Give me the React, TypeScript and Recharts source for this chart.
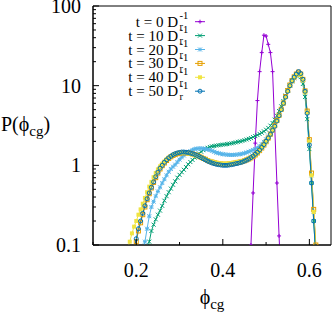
import React from 'react';
import { LineChart, Line, XAxis, YAxis, Legend, ReferenceArea } from 'recharts';

// packing fraction grid (step 0.005)
const PHI = [
  0.17, 0.175, 0.18, 0.185, 0.19, 0.195, 0.2, 0.205, 0.21, 0.215,
  0.22, 0.225, 0.23, 0.235, 0.24, 0.245, 0.25, 0.255, 0.26, 0.265,
  0.27, 0.275, 0.28, 0.285, 0.29, 0.295, 0.3, 0.305, 0.31, 0.315,
  0.32, 0.325, 0.33, 0.335, 0.34, 0.345, 0.35, 0.355, 0.36, 0.365,
  0.37, 0.375, 0.38, 0.385, 0.39, 0.395, 0.4, 0.405, 0.41, 0.415,
  0.42, 0.425, 0.43, 0.435, 0.44, 0.445, 0.45, 0.455, 0.46, 0.465,
  0.47, 0.475, 0.48, 0.485, 0.49, 0.495, 0.5, 0.505, 0.51, 0.515,
  0.52, 0.525, 0.53, 0.535, 0.54, 0.545, 0.55, 0.555, 0.56, 0.565,
  0.57, 0.575, 0.58, 0.585, 0.59, 0.595, 0.6, 0.605, 0.61, 0.615, 0.62,
];

const T0 = [
  null, null, null, null, null, null, null, null, null, null,
  null, null, null, null, null, null, null, null, null, null,
  null, null, null, null, null, null, null, null, null, null,
  null, null, null, null, null, null, null, null, null, null,
  null, null, null, null, null, null, null, null, null, null,
  null, null, null, null, null, null, null, null, 0.03, 0.1,
  0.45, 1.9, 6.5, 15, 26, 43, 42, 33, 26, 15,
  3.0, 0.6, 0.13, 0.03, null, null, null, null, null, null,
  null, null, null, null, null, null, null, null, null, null, null,
];

const T10 = [
  null, null, null, null, null, null, null, null, null, null,
  null, 0.08, 0.11, 0.15, 0.18, 0.21, 0.24, 0.27, 0.31, 0.36,
  0.41, 0.46, 0.51, 0.57, 0.63, 0.7, 0.76, 0.82, 0.88, 0.95,
  1.03, 1.1, 1.17, 1.25, 1.33, 1.41, 1.48, 1.55, 1.61, 1.66,
  1.7, 1.73, 1.75, 1.77, 1.79, 1.8, 1.82, 1.83, 1.85, 1.87,
  1.89, 1.91, 1.94, 1.97, 2.0, 2.03, 2.07, 2.11, 2.15, 2.2,
  2.26, 2.33, 2.4, 2.48, 2.57, 2.67, 2.8, 2.95, 3.15, 3.4,
  3.75, 4.2, 4.8, 5.5, 6.4, 7.5, 8.7, 10, 11.3, 12.4,
  13.3, 13.7, 12.8, 10.5, 7.2, 3.8, 1.6, 0.6, 0.2, 0.07, null,
];

const T20 = [
  null, null, null, null, null, null, null, null, 0.06, 0.08,
  0.11, 0.16, 0.23, 0.3, 0.35, 0.41, 0.47, 0.53, 0.6, 0.67,
  0.75, 0.83, 0.9, 0.96, 1.02, 1.1, 1.18, 1.26, 1.33, 1.4,
  1.46, 1.51, 1.56, 1.6, 1.62, 1.63, 1.63, 1.62, 1.6, 1.58,
  1.56, 1.52, 1.48, 1.44, 1.42, 1.4, 1.38, 1.37, 1.36, 1.35,
  1.35, 1.35, 1.36, 1.37, 1.38, 1.4, 1.42, 1.45, 1.48, 1.52,
  1.56, 1.6, 1.66, 1.74, 1.84, 1.97, 2.12, 2.3, 2.55, 2.85,
  3.2, 3.7, 4.3, 5.1, 6.1, 7.3, 8.7, 10.1, 11.5, 12.8,
  13.8, 14.4, 13.6, 11.5, 8.2, 4.6, 2.0, 0.75, 0.26, 0.09, null,
];

const T30 = [
  null, null, null, null, 0.07, 0.09, 0.11, 0.15, 0.19, 0.24,
  0.3, 0.37, 0.44, 0.52, 0.61, 0.7, 0.8, 0.9, 0.99, 1.07,
  1.15, 1.22, 1.28, 1.33, 1.37, 1.4, 1.42, 1.44, 1.44, 1.44,
  1.43, 1.41, 1.39, 1.36, 1.33, 1.3, 1.26, 1.22, 1.19, 1.15,
  1.12, 1.1, 1.08, 1.06, 1.05, 1.04, 1.03, 1.03, 1.03, 1.04,
  1.05, 1.06, 1.07, 1.09, 1.1, 1.12, 1.14, 1.17, 1.2, 1.24,
  1.29, 1.35, 1.43, 1.53, 1.65, 1.8, 1.98, 2.2, 2.46, 2.78,
  3.15, 3.65, 4.25, 5.05, 6.05, 7.3, 8.7, 10.2, 11.6, 12.9,
  14, 14.8, 14, 12, 8.6, 4.8, 2.1, 0.8, 0.28, 0.1, 0.04,
];

const T40 = [
  null, 0.07, 0.09, 0.11, 0.14, 0.17, 0.2, 0.24, 0.28, 0.33,
  0.39, 0.46, 0.54, 0.62, 0.71, 0.8, 0.89, 0.97, 1.05, 1.12,
  1.19, 1.25, 1.3, 1.35, 1.39, 1.42, 1.43, 1.44, 1.44, 1.43,
  1.41, 1.39, 1.37, 1.34, 1.31, 1.28, 1.25, 1.22, 1.19, 1.16,
  1.13, 1.11, 1.09, 1.08, 1.07, 1.06, 1.05, 1.05, 1.05, 1.06,
  1.07, 1.08, 1.09, 1.1, 1.11, 1.13, 1.15, 1.18, 1.21, 1.25,
  1.3, 1.36, 1.44, 1.54, 1.66, 1.8, 1.97, 2.2, 2.45, 2.75,
  3.1, 3.6, 4.2, 5.0, 6.0, 7.2, 8.6, 10, 11.4, 12.6,
  13.6, 14.2, 13.6, 11.6, 8.2, 4.6, 2.0, 0.75, 0.26, 0.09, null,
];

const T50 = [
  null, null, null, null, 0.06, 0.09, 0.12, 0.16, 0.2, 0.25,
  0.31, 0.38, 0.45, 0.53, 0.62, 0.72, 0.82, 0.92, 1.0, 1.09,
  1.17, 1.24, 1.3, 1.36, 1.4, 1.43, 1.45, 1.47, 1.47, 1.46,
  1.45, 1.42, 1.4, 1.37, 1.33, 1.29, 1.25, 1.21, 1.17, 1.13,
  1.1, 1.07, 1.05, 1.03, 1.02, 1.01, 1.0, 1.0, 1.0, 1.01,
  1.02, 1.03, 1.05, 1.06, 1.08, 1.1, 1.13, 1.16, 1.2, 1.25,
  1.31, 1.38, 1.46, 1.56, 1.68, 1.82, 2.0, 2.2, 2.45, 2.75,
  3.1, 3.6, 4.2, 5.0, 6.0, 7.2, 8.5, 10, 11.5, 12.8,
  14, 15, 14.2, 12, 8.5, 4.5, 1.8, 0.6, 0.2, 0.07, null,
];

const TIMES = ['0', '10', '20', '30', '40', '50'];

const X_TICKS = [0.1, 0.2, 0.3, 0.4, 0.5, 0.6];
const X_LABELED = [0.2, 0.4, 0.6];
const Y_TICKS = [
  0.1, 0.2, 0.3, 0.4, 0.5, 0.6, 0.7, 0.8, 0.9,
  1, 2, 3, 4, 5, 6, 7, 8, 9,
  10, 20, 30, 40, 50, 60, 70, 80, 90, 100,
];
const Y_LABELED = [0.1, 1, 10, 100];

const SERIES = [
  { key: 't0', color: '#9400d3', marker: 'plus', values: T0 },
  { key: 't10', color: '#009e73', marker: 'cross', values: T10 },
  { key: 't20', color: '#56b4e9', marker: 'star', values: T20 },
  { key: 't30', color: '#e69f00', marker: 'square', values: T30 },
  { key: 't40', color: '#f0e442', marker: 'filledSquare', values: T40 },
  { key: 't50', color: '#0072b2', marker: 'circle', values: T50 },
];

const data = PHI.map((phi, i) => {
  const row: any = { phi };
  SERIES.forEach((s) => { row[s.key] = s.values[i]; });
  return row;
});

const FONT = '"Liberation Serif", "Times New Roman", serif';
const Y_MARGIN = 12;
const X_MARGIN = 25;

const Marker = ({ cx, cy, kind, color }: any) => {
  const r = 2;
  switch (kind) {
    case 'plus':
      return <path d={`M${cx - r},${cy}H${cx + r}M${cx},${cy - r}V${cy + r}`} stroke={color} strokeWidth={1} fill="none" />;
    case 'cross':
      return <path d={`M${cx - r},${cy - r}L${cx + r},${cy + r}M${cx - r},${cy + r}L${cx + r},${cy - r}`} stroke={color} strokeWidth={1} fill="none" />;
    case 'star':
      return <path d={`M${cx - r},${cy}H${cx + r}M${cx},${cy - r}V${cy + r}M${cx - r},${cy - r}L${cx + r},${cy + r}M${cx - r},${cy + r}L${cx + r},${cy - r}`} stroke={color} strokeWidth={1} fill="none" />;
    case 'square':
      return <rect x={cx - r} y={cy - r} width={2 * r} height={2 * r} stroke={color} strokeWidth={1} fill="none" />;
    case 'filledSquare':
      return <rect x={cx - r} y={cy - r} width={2 * r} height={2 * r} fill={color} />;
    default:
      return <circle cx={cx} cy={cy} r={r} stroke={color} strokeWidth={1} fill="none" />;
  }
};

const makeDot = (kind: string, color: string) => (p: any) => {
  const k = `${kind}-${p.index}`;
  if (p.cx == null || p.cy == null || p.value == null) return <g key={k} />;
  return <Marker key={k} cx={p.cx} cy={p.cy} kind={kind} color={color} />;
};

const YTick = ({ x, y, payload }: any) => {
  const v = payload.value;
  const major = Y_LABELED.includes(v);
  const px = x + Y_MARGIN;
  return (
    <g>
      <line x1={px} x2={px + (major ? 6 : 3)} y1={y} y2={y} stroke="#000" strokeWidth={1} />
      {major && (
        <text x={x} y={y} dy={7} textAnchor="end" fontFamily={FONT} fontSize={20} fill="#000">{v}</text>
      )}
    </g>
  );
};

const XTick = ({ x, y, payload }: any) => {
  const v = payload.value;
  const major = X_LABELED.includes(v);
  const py = y - X_MARGIN;
  return (
    <g>
      <line x1={x} x2={x} y1={py} y2={py - (major ? 6 : 3)} stroke="#000" strokeWidth={1} />
      {major && (
        <text x={x} y={y} dy={7} textAnchor="middle" fontFamily={FONT} fontSize={20} fill="#000">{v}</text>
      )}
    </g>
  );
};

const XLabel = ({ viewBox }: any) => {
  const cx = viewBox.x + viewBox.width / 2;
  return (
    <text x={cx} y={304} textAnchor="middle" fontFamily={FONT} fontSize={20} fill="#000">
      ϕ<tspan dy={5} fontSize={15}>cg</tspan>
    </text>
  );
};

const YLabel = () => (
  <text x={1} y={131} fontFamily={FONT} fontSize={20} fill="#000">
    P(ϕ<tspan dy={5} fontSize={15}>cg</tspan><tspan dy={-5}>)</tspan>
  </text>
);

const KeyBox = () => (
  <svg width={332} height={110} style={{ display: 'block' }}>
    {SERIES.map((s, i) => {
      const cy = 21.7 + 13.9 * i;
      return (
        <g key={s.key} fontFamily={FONT} fill="#000">
          <text x={178} y={cy + 5} textAnchor="end" fontSize={15}>{`t = ${TIMES[i]} D`}</text>
          <text x={179.5} y={cy - 2.5} fontSize={10.5}>-1</text>
          <text x={179.5} y={cy + 8.5} fontSize={10.5}>r</text>
          <line x1={195} x2={205} y1={cy} y2={cy} stroke={s.color} strokeWidth={1} />
          <Marker cx={200} cy={cy} kind={s.marker} color={s.color} />
        </g>
      );
    })}
  </svg>
);

export default function App() {
  return (
    <div style={{ position: 'absolute', left: 0, top: 0, width: 332, height: 316, background: '#fff' }}>
      <LineChart width={332} height={316} data={data} margin={{ top: 6, right: 1, left: 0, bottom: 0 }}>
        <XAxis
          dataKey="phi"
          type="number"
          domain={[0.1, 0.65]}
          ticks={X_TICKS}
          interval={0}
          height={71}
          tickSize={0}
          tickMargin={X_MARGIN}
          tickLine={false}
          tick={<XTick />}
          stroke="#000"
          label={<XLabel />}
        />
        <YAxis
          type="number"
          scale="log"
          domain={[0.1, 100]}
          allowDataOverflow
          ticks={Y_TICKS}
          interval={0}
          width={93}
          tickSize={0}
          tickMargin={Y_MARGIN}
          tickLine={false}
          tick={<YTick />}
          stroke="#000"
          label={<YLabel />}
        />
        <ReferenceArea x1={0.1} x2={0.65} y1={0.1} y2={100} fill="none" stroke="#000" strokeWidth={1} ifOverflow="visible" />
        <Legend
          layout="vertical"
          align="center"
          verticalAlign="middle"
          wrapperStyle={{ left: 0, top: 0, width: 332, height: 110, pointerEvents: 'none' }}
          content={() => <KeyBox />}
        />
        {SERIES.map((s) => (
          <Line
            key={s.key}
            dataKey={s.key}
            stroke={s.color}
            strokeWidth={1}
            dot={makeDot(s.marker, s.color)}
            activeDot={false}
            isAnimationActive={false}
            legendType="none"
          />
        ))}
      </LineChart>
    </div>
  );
}
